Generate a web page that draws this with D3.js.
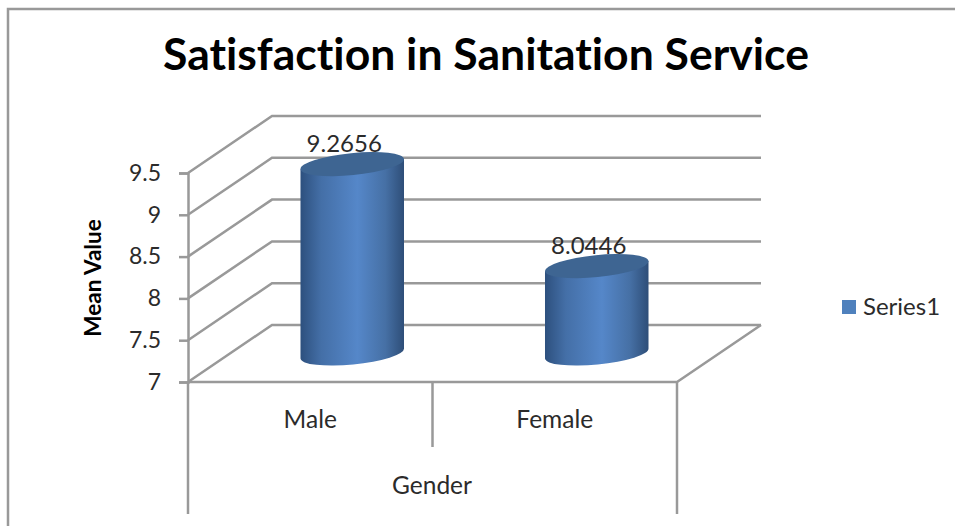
<!DOCTYPE html>
<html>
<head>
<meta charset="utf-8">
<script src="https://cdn.jsdelivr.net/npm/d3@7"></script>
<style>
  html, body { margin: 0; background: #fff; }
  svg { display: block; }
  text { font-family: Lato, "Open Sans", sans-serif; fill: #2b2b2b; font-variant-ligatures: none; }
</style>
</head>
<body>
<script>
var categories = ['Male', 'Female'];
var values = [9.2656, 8.0446];
var valueLabels = ['9.2656', '8.0446'];
var yTicks = [7, 7.5, 8, 8.5, 9, 9.5];
var seriesName = 'Series1';
var chartTitle = 'Satisfaction in Sanitation Service';
var yTitle = 'Mean Value';
var xTitle = 'Gender';

var width = 955, height = 526;
var lineColor = '#999';

// 3d box: the back wall is the front plane shifted by this much
var depthX = 84, depthY = -57;

var x = d3.scaleBand().domain(categories).range([188, 677]);
var y = d3.scaleLinear().domain([7, 9.5]).range([382, 173]);

var svg = d3.select('body').append('svg')
    .attr('width', width)
    .attr('height', height);

var defs = svg.append('defs');
var grad = defs.append('linearGradient').attr('id', 'cyl');
grad.append('stop').attr('offset', '0%').attr('stop-color', '#2d507e');
grad.append('stop').attr('offset', '20%').attr('stop-color', '#446fa7');
grad.append('stop').attr('offset', '55%').attr('stop-color', '#5587c9');
grad.append('stop').attr('offset', '82%').attr('stop-color', '#4670a5');
grad.append('stop').attr('offset', '100%').attr('stop-color', '#2e4e78');

// outer frame, runs off the right and bottom of the screenshot
svg.append('path')
    .attr('d', 'M8,' + height + 'V9H' + width)
    .attr('fill', 'none')
    .attr('stroke', lineColor)
    .attr('stroke-width', 2.5);

svg.append('text')
    .attr('x', 486).attr('y', 70)
    .attr('text-anchor', 'middle')
    .style('font-size', '44.5px')
    .style('font-weight', 700)
    .style('fill', '#000')
    .text(chartTitle);

// walls
var grid = svg.append('g')
    .attr('fill', 'none')
    .attr('stroke', lineColor)
    .attr('stroke-width', 2.5);

grid.selectAll('path.wall')
    .data(yTicks)
    .enter().append('path')
      .attr('class', 'wall')
      .attr('d', function (d) {
        return 'M' + x.range()[0] + ',' + y(d) +
          'L' + (x.range()[0] + depthX) + ',' + (y(d) + depthY) +
          'H' + (x.range()[1] + depthX);
      });

// floor front edge and the right side of it
grid.append('path')
    .attr('d', 'M' + x.range()[0] + ',' + y(7) + 'H' + x.range()[1] +
      'L' + (x.range()[1] + depthX) + ',' + (y(7) + depthY));

// category separators under the floor
var sepBottom = 514;
grid.selectAll('line.sep')
    .data([x.range()[0], x(categories[1]), x.range()[1]])
    .enter().append('line')
      .attr('class', 'sep')
      .attr('x1', function (d) { return d; })
      .attr('x2', function (d) { return d; })
      .attr('y1', y(7))
      .attr('y2', function (d, i) { return i === 1 ? 447 : sepBottom; });

// y axis
var axis = d3.axisLeft(y)
    .tickValues(yTicks)
    .tickSize(9)
    .tickPadding(18)
    .tickFormat(function (d) { return String(d); });

var axisG = svg.append('g')
    .attr('transform', 'translate(' + x.range()[0] + ',0)')
    .call(axis);
axisG.selectAll('line').attr('stroke', lineColor).attr('stroke-width', 2.5);
axisG.select('.domain').attr('stroke', lineColor).attr('stroke-width', 2.5);
axisG.selectAll('text').style('font-size', '23px').style('font-family', 'Lato');

svg.append('text')
    .attr('transform', 'translate(101,278) rotate(-90)')
    .attr('text-anchor', 'middle')
    .style('font-size', '22.5px')
    .style('font-weight', 700)
    .style('fill', '#000')
    .text(yTitle);

// cylinders sit halfway into the depth of the box
var rx = 52, ry = 11, tilt = -5.6;
var tiltDx = rx * Math.cos(tilt * Math.PI / 180);
var tiltDy = rx * Math.sin(tilt * Math.PI / 180);

var bars = svg.selectAll('g.bar')
    .data(categories)
    .enter().append('g')
      .attr('class', 'bar');

bars.append('path')
    .attr('fill', 'url(#cyl)')
    .attr('d', function (d, i) {
      var cx = x(d) + x.bandwidth() / 2 + depthX / 2;
      var top = y(values[i]) + depthY / 2;
      var base = y(7) + depthY / 2;
      return 'M' + (cx - tiltDx) + ',' + (top - tiltDy) +
        'L' + (cx - tiltDx) + ',' + (base - tiltDy) +
        'A' + rx + ',' + ry + ',' + tilt + ',0,0,' + (cx + tiltDx) + ',' + (base + tiltDy) +
        'L' + (cx + tiltDx) + ',' + (top + tiltDy) + 'Z';
    });

bars.append('ellipse')
    .attr('rx', rx)
    .attr('ry', ry)
    .attr('fill', '#3e6592')
    .attr('transform', function (d, i) {
      var cx = x(d) + x.bandwidth() / 2 + depthX / 2;
      var top = y(values[i]) + depthY / 2;
      return 'translate(' + cx + ',' + top + ') rotate(' + tilt + ')';
    });

bars.append('text')
    .attr('x', function (d) { return x(d) + x.bandwidth() / 2 + depthX / 2 - 8; })
    .attr('y', function (d, i) { return y(values[i]) + depthY / 2 - 12; })
    .attr('text-anchor', 'middle')
    .style('font-size', '24px')
    .text(function (d, i) { return valueLabels[i]; });

// category and axis titles
svg.selectAll('text.cat')
    .data(categories)
    .enter().append('text')
      .attr('class', 'cat')
      .attr('x', function (d) { return x(d) + x.bandwidth() / 2; })
      .attr('y', 428)
      .attr('text-anchor', 'middle')
      .style('font-size', '24.5px')
      .text(function (d) { return d; });

svg.append('text')
    .attr('x', 432).attr('y', 494)
    .attr('text-anchor', 'middle')
    .style('font-size', '24.5px')
    .text(xTitle);

// legend
svg.append('rect')
    .attr('x', 842).attr('y', 300)
    .attr('width', 14).attr('height', 14)
    .attr('fill', '#4f81bd');

svg.append('text')
    .attr('x', 863).attr('y', 315)
    .style('font-size', '24px')
    .text(seriesName);
</script>
</body>
</html>
